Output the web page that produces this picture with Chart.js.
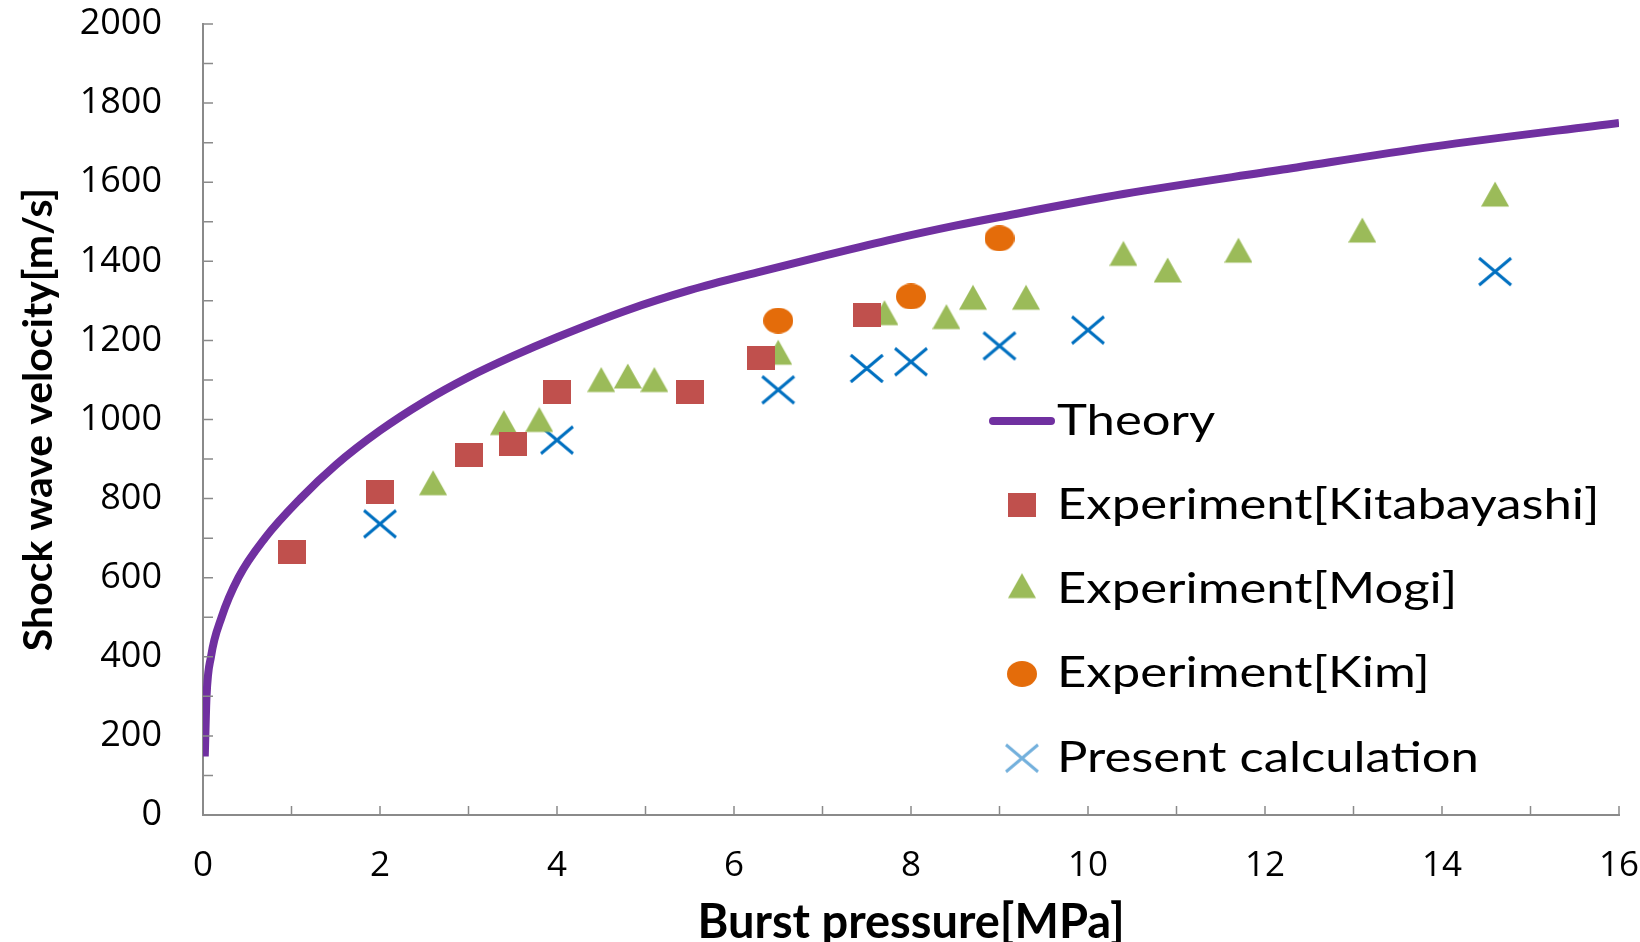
<!DOCTYPE html>
<html>
<head>
<meta charset="utf-8">
<script src="https://cdn.jsdelivr.net/npm/chart.js@4.4.1/dist/chart.umd.min.js"></script>
<style>
    html, body { margin: 0; padding: 0; background: #fff; }
    #wrap { width: 1640px; height: 942px; }
</style>
</head>
<body>
<div id="wrap"><canvas id="chart" width="1640" height="942"></canvas></div>
<script>
// values
const theoryP = [0.02, 0.04, 0.09, 0.21, 0.40, 0.70, 1.10, 1.50, 2.00, 2.50, 3.00, 3.50, 4.00, 4.80, 5.50, 6.30, 7.00, 7.80, 8.50, 9.00, 10.40, 12.20, 13.90, 16.00];
const theoryV = [148, 300, 400, 500, 600, 700, 800, 885, 972, 1045, 1107, 1160, 1208, 1277, 1327, 1374, 1413, 1456, 1490, 1512, 1570, 1632, 1690, 1750];

const kitaP = [1.0, 2.0, 3.0, 3.5, 4.0, 5.5, 6.3, 7.5];
const kitaV = [665, 817, 910, 937, 1069, 1069, 1155, 1264];

const mogiP = [2.6, 3.4, 3.8, 4.5, 4.8, 5.1, 6.5, 7.7, 8.4, 8.7, 9.3, 10.4, 10.9, 11.7, 13.1, 14.6];
const mogiV = [830, 982, 990, 1091, 1100, 1091, 1160, 1260, 1250, 1299, 1299, 1410, 1368, 1418, 1469, 1560];

const kimP = [6.5, 8.0, 9.0];
const kimV = [1250, 1311, 1458];

const calcP = [2.0, 4.0, 6.5, 7.5, 8.0, 9.0, 10.0, 14.6];
const calcV = [736, 948, 1075, 1129, 1146, 1186, 1226, 1374];

const seriesLabels = ['Theory', 'Experiment[Kitabayashi]', 'Experiment[Mogi]', 'Experiment[Kim]', 'Present calculation'];

const AXIS_GREY = '#8a8a8a';

const toPoints = (xs, ys) => xs.map((x, i) => ({ x, y: ys[i] }));

// small canvases used as point styles (the original markers are a bit wider than tall)
function makeMarker(w, h, draw) {
    const c = document.createElement('canvas');
    c.width = w;
    c.height = h;
    draw(c.getContext('2d'), w, h);
    return c;
}

const squareMarker = makeMarker(28, 24, (ctx, w, h) => {
    ctx.fillStyle = '#c0504d';
    ctx.fillRect(0, 0, w, h);
});

// centroid sits at the canvas centre
const triangleMarker = makeMarker(28, 34, (ctx, w) => {
    ctx.fillStyle = '#9bbb59';
    ctx.beginPath();
    ctx.moveTo(w / 2, 0.5);
    ctx.lineTo(w, 25.5);
    ctx.lineTo(0, 25.5);
    ctx.closePath();
    ctx.fill();
});

const circleMarker = makeMarker(30, 26, (ctx, w, h) => {
    ctx.fillStyle = '#e46c0a';
    ctx.beginPath();
    ctx.ellipse(w / 2, h / 2, w / 2, h / 2, 0, 0, Math.PI * 2);
    ctx.fill();
});

const crossMarker = makeMarker(36, 31, (ctx, w, h) => {
    ctx.strokeStyle = '#0070c0';
    ctx.lineWidth = 3;
    ctx.beginPath();
    ctx.moveTo(2, 2);
    ctx.lineTo(w - 2, h - 2);
    ctx.moveTo(w - 2, 2);
    ctx.lineTo(2, h - 2);
    ctx.stroke();
});

// Excel style tick marks pointing into the plot
const innerTicks = {
    id: 'innerTicks',
    afterDraw(chart) {
        const { ctx, chartArea, scales } = chart;
        ctx.save();
        ctx.strokeStyle = AXIS_GREY;
        ctx.lineWidth = 1.5;
        ctx.beginPath();
        scales.y.ticks.forEach(t => {
            const y = scales.y.getPixelForValue(t.value);
            ctx.moveTo(chartArea.left, y);
            ctx.lineTo(chartArea.left + 10, y);
        });
        scales.x.ticks.forEach(t => {
            if (t.value === 0) return;
            const x = scales.x.getPixelForValue(t.value);
            ctx.moveTo(x, chartArea.bottom);
            ctx.lineTo(x, chartArea.bottom - 9);
        });
        ctx.stroke();
        ctx.restore();
    }
};

// legend floating inside the plot, lower right
const floatingLegend = {
    id: 'floatingLegend',
    afterDraw(chart) {
        const { ctx } = chart;
        const markX = 1022;
        const textX = 1057;
        const top = 421;
        const gap = 84.3;

        chart.data.datasets.forEach((ds, i) => {
            const y = top + i * gap;
            ctx.save();
            if (ds.showLine) {
                ctx.strokeStyle = ds.borderColor;
                ctx.lineWidth = 8;
                ctx.lineCap = 'round';
                ctx.beginPath();
                ctx.moveTo(markX - 29, y);
                ctx.lineTo(markX + 29, y);
                ctx.stroke();
            } else {
                const img = ds.pointStyle;
                if (img === crossMarker) ctx.globalAlpha = 0.55;
                ctx.drawImage(img, markX - img.width / 2, y - img.height / 2);
            }
            ctx.restore();

            ctx.save();
            ctx.translate(textX, y);
            ctx.scale(1.21, 1);
            ctx.font = '42px Lato';
            ctx.fillStyle = '#000';
            ctx.textBaseline = 'middle';
            ctx.fillText(ds.label, 0, 0);
            ctx.restore();
        });
    }
};

new Chart(document.getElementById('chart'), {
    type: 'scatter',
    data: {
        datasets: [
            {
                label: seriesLabels[0],
                data: toPoints(theoryP, theoryV),
                showLine: true,
                borderColor: '#7030a0',
                borderWidth: 8,
                pointRadius: 0,
                cubicInterpolationMode: 'monotone',
            },
            {
                label: seriesLabels[1],
                data: toPoints(kitaP, kitaV),
                pointStyle: squareMarker,
                pointRadius: 12,
            },
            {
                label: seriesLabels[2],
                data: toPoints(mogiP, mogiV),
                pointStyle: triangleMarker,
                pointRadius: 12,
            },
            {
                label: seriesLabels[3],
                data: toPoints(kimP, kimV),
                pointStyle: circleMarker,
                pointRadius: 12,
            },
            {
                label: seriesLabels[4],
                data: toPoints(calcP, calcV),
                pointStyle: crossMarker,
                pointRadius: 12,
            },
        ],
    },
    options: {
        responsive: false,
        animation: false,
        layout: { padding: { left: 0, right: 21, top: 24, bottom: 0 } },
        plugins: {
            legend: { display: false },
            tooltip: { enabled: false },
        },
        scales: {
            x: {
                type: 'linear',
                min: 0,
                max: 16,
                border: { color: AXIS_GREY, width: 2 },
                grid: { display: false, drawTicks: false },
                ticks: {
                    stepSize: 1,
                    autoSkip: false,
                    maxRotation: 0,
                    padding: 30,
                    color: '#000',
                    font: { family: 'Open Sans', size: 35 },
                    callback: (v) => (v % 2 === 0 ? v : ''),
                },
                title: {
                    display: true,
                    text: 'Burst pressure[MPa]',
                    color: '#000',
                    font: { family: 'Lato', size: 47, weight: 'bold', lineHeight: 1 },
                    padding: { top: 0, bottom: -4 },
                },
                afterFit: (scale) => {
                    scale.height = 127;
                    // tick padding should not push the plot in from the right
                    scale.paddingLeft = 0;
                    scale.paddingRight = 0;
                },
            },
            y: {
                type: 'linear',
                min: 0,
                max: 2000,
                border: { color: AXIS_GREY, width: 2 },
                grid: { display: false, drawTicks: false },
                ticks: {
                    stepSize: 100,
                    autoSkip: false,
                    padding: 41,
                    color: '#000',
                    font: { family: 'Open Sans', size: 36 },
                    callback: (v) => (v % 200 === 0 ? v : ''),
                },
                title: {
                    display: true,
                    text: 'Shock wave velocity[m/s]',
                    color: '#000',
                    font: { family: 'Lato', size: 41, weight: 'bold' },
                    padding: { top: 14, bottom: 0 },
                },
                afterFit: (scale) => {
                    scale.width = 203;
                    scale.paddingTop = 0;
                    scale.paddingBottom = 0;
                },
            },
        },
    },
    plugins: [innerTicks, floatingLegend],
});
</script>
</body>
</html>
